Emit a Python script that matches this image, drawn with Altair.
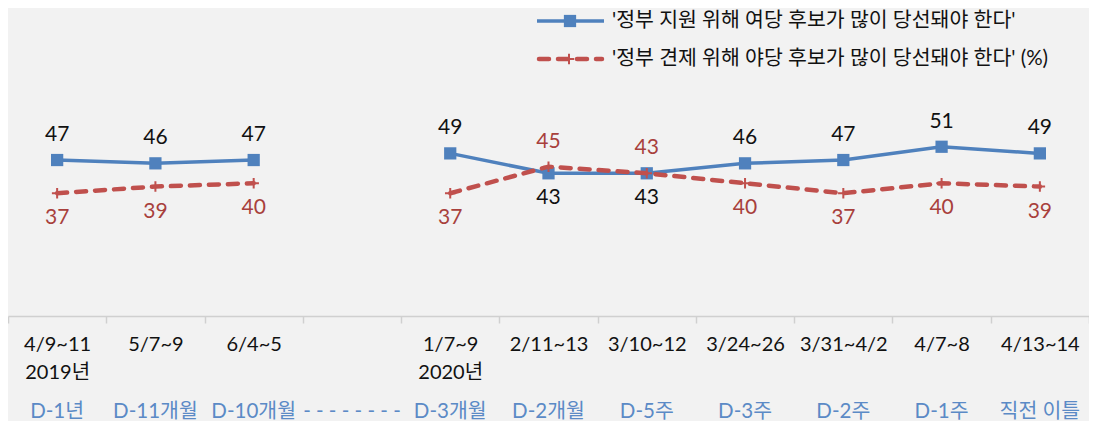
import altair as alt
import pandas as pd

# ---- data ----
dates = ["4/9~11", "5/7~9", "6/4~5", "1/7~9", "2/11~13", "3/10~12",
         "3/24~26", "3/31~4/2", "4/7~8", "4/13~14"]
years = ["2019", "2019", "2019", "2020", "2020", "2020", "2020", "2020", "2020", "2020"]
d_labels = ["D-1년", "D-11개월", "D-10개월", "D-3개월", "D-2개월", "D-5주",
            "D-3주", "D-2주", "D-1주", "직전 이틀"]
support = [47, 46, 47, 49, 43, 43, 46, 47, 51, 49]
check = [37, 39, 40, 37, 45, 43, 40, 37, 40, 39]
series_names = ["'정부 지원 위해 여당 후보가 많이 당선돼야 한다'",
                "'정부 견제 위해 야당 후보가 많이 당선돼야 한다' (%)"]
gap_key = "gap"
gap_label = "- - - - - - - -"

# ---- derived tables ----
split_at = years.index(years[-1])
domain = dates[:split_at] + [gap_key] + dates[split_at:]
dlab_all = d_labels[:split_at] + [gap_label] + d_labels[split_at:]

rows = []
for d, y, s, c in zip(dates, years, support, check):
    rows.append({"cat": d, "year": y, "series": series_names[0], "value": s, "above": s > c})
    rows.append({"cat": d, "year": y, "series": series_names[1], "value": c, "above": not (s > c)})
df = pd.DataFrame(rows)
dl_df = pd.DataFrame({"cat": domain, "dlab": dlab_all})
one = pd.DataFrame({"k": [0]})

BLUE = "#4f81bd"
RED = "#c0504d"
RED_TXT = "#a8403c"
FONT = "Lato, 'Noto Sans CJK KR', sans-serif"

# axis label expression: add year line under first survey of each year
expr = ""
seen = set()
for d, y in zip(dates, years):
    if y not in seen:
        seen.add(y)
        expr += f"datum.value == '{d}' ? ['{d}', '{y}년'] : "
expr += f"datum.value == '{gap_key}' ? '' : datum.value"

x_enc = alt.X(
    "cat:N",
    sort=domain,
    scale=alt.Scale(domain=domain, paddingInner=0, paddingOuter=0),
    axis=alt.Axis(
        title=None, labelAngle=0, grid=False, tickBand="extent", ticks=True,
        tickSize=7, tickColor="#d0d0d0", tickWidth=1.5, domainColor="#d0d0d0",
        domainWidth=1.5, labelFontSize=20, labelFont=FONT, labelColor="#111111",
        labelPadding=11, labelLineHeight=28, labelExpr=expr, labelBaseline="top",
    ),
)
y_enc = alt.Y("value:Q", scale=alt.Scale(domain=[0, 90.4], nice=False, zero=True), axis=None)

base = alt.Chart(df)
blue = base.transform_filter(alt.datum.series == series_names[0])
red = base.transform_filter(alt.datum.series == series_names[1])

plus_path = "M-1,0H1M0,-1V1"

blue_line = blue.mark_line(color=BLUE, strokeWidth=3.5).encode(x=x_enc, y=y_enc, detail="year:N")
blue_pts = blue.mark_point(shape="square", filled=True, color=BLUE, size=150, opacity=1).encode(x=x_enc, y=y_enc)
red_line = red.mark_line(color=RED, strokeWidth=4.5, strokeDash=[10, 9], strokeCap="round").encode(
    x=x_enc, y=y_enc, detail="year:N")
red_pts = red.mark_point(shape=plus_path, filled=False, color=RED, size=110, strokeWidth=2, opacity=1).encode(
    x=x_enc, y=y_enc)

color_txt = alt.Color("series:N", scale=alt.Scale(domain=series_names, range=["#111111", RED_TXT]), legend=None)
txt_above = base.transform_filter(alt.datum.above).mark_text(
    dy=-25, fontSize=21, font=FONT, baseline="middle").encode(x=x_enc, y=y_enc, text="value:Q", color=color_txt)
txt_below = base.transform_filter(~alt.datum.above).mark_text(
    dy=25, fontSize=21, font=FONT, baseline="middle").encode(x=x_enc, y=y_enc, text="value:Q", color=color_txt)

dlab = alt.Chart(dl_df).mark_text(fontSize=20.5, font=FONT, color="#5b8ac6", baseline="middle").encode(
    x=x_enc, y=alt.value(396), text="dlab:N")

# custom legend (top right); plot origin is at page y=16
lg = alt.Chart(one)
LY1, LY2 = 5, 43
lg1_line = lg.mark_rule(color=BLUE, strokeWidth=3.5).encode(x=alt.value(529), x2=alt.value(596), y=alt.value(LY1))
lg1_pt = lg.mark_point(shape="square", filled=True, color=BLUE, size=150, opacity=1).encode(
    x=alt.value(562), y=alt.value(LY1))
lg1_txt = lg.mark_text(align="left", baseline="middle", fontSize=20.5, font=FONT, color="#111111").encode(
    x=alt.value(604), y=alt.value(LY1), text=alt.value(series_names[0]))
lg2_line = lg.mark_rule(color=RED, strokeWidth=4.5, strokeDash=[10, 9], strokeCap="round").encode(
    x=alt.value(531), x2=alt.value(594), y=alt.value(LY2))
lg2_pt = lg.mark_point(shape=plus_path, filled=False, color=RED, size=110, strokeWidth=2, opacity=1).encode(
    x=alt.value(561), y=alt.value(LY2))
lg2_txt = lg.mark_text(align="left", baseline="middle", fontSize=20.5, font=FONT, color="#111111").encode(
    x=alt.value(604), y=alt.value(LY2), text=alt.value(series_names[1]))

chart = alt.layer(
    blue_line, blue_pts, red_line, red_pts, txt_above, txt_below, dlab,
    lg1_line, lg1_pt, lg1_txt, lg2_line, lg2_pt, lg2_txt,
).properties(
    width=1081, height=300,
    autosize=alt.AutoSizeParams(type="none"),
    padding={"left": 0, "top": 8, "right": 0, "bottom": 105},
    background="#f2f2f2",
).configure_view(stroke=None)

chart.save("out.html", embed_options={"renderer": "svg", "actions": False})
